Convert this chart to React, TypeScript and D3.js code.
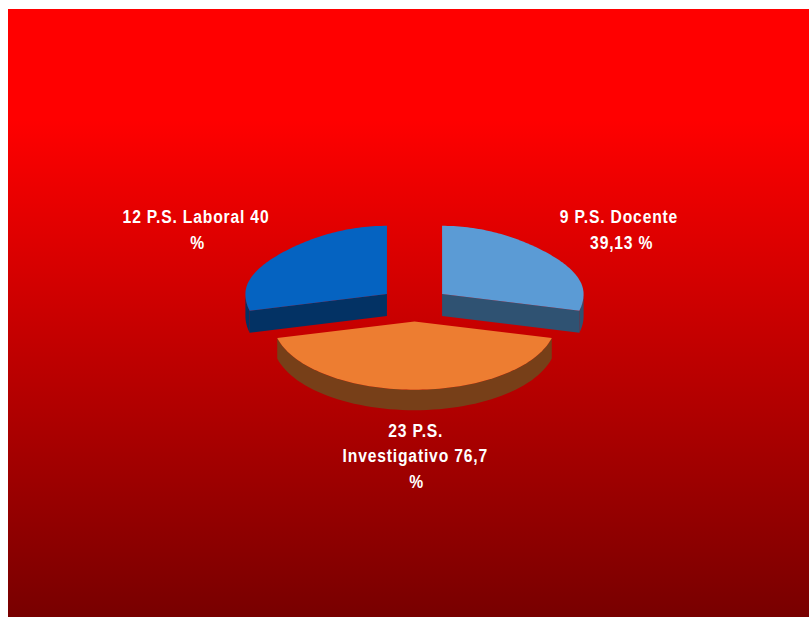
import React from "react";
import * as d3 from "d3";

// Shares measured from the slice angles in the picture; the printed labels are separate text.
const categories = ["Docente", "Investigativo", "Laboral"];
const sliceShares = [28.9, 42.2, 28.9];
const topColors = ["#5B9BD5", "#ED7D31", "#0563C1"];
const sideColors = ["#2F5272", "#773F18", "#033264"];
const labelLines = [
  ["9 P.S. Docente", "39,13 %"],
  ["23 P.S.", "Investigativo 76,7", "%"],
  ["12 P.S. Laboral 40", "%"],
];
const labelX = [[619, 621.7], [415.7, 415.3, 416.7], [196, 197.5]];
const labelY = [223.3, 436.7, 223.3];
const lineGap = 25.6;

const W = 809, H = 617;
const cx = 414.5, cy = 304.5, rx = 141.5, ry = 68.3, depths = [22, 20.5, 22], explode = 35;
const squash = ry / rx;
const backFlatten = 0.045;

export default function App() {
  const pie = d3.pie<number>().sort(null).value((d) => d);
  const arcs = pie(sliceShares);

  // the far half of the projected disc is slightly pulled in, as in a perspective view
  const radiusAt = (a: number) =>
    Math.cos(a) > 0 ? rx * (1 - backFlatten * Math.sin(2 * a) ** 2) : rx;
  const pt = (a: number, r: number, ox: number, oy: number, dy = 0): [number, number] => [
    cx + ox + r * Math.sin(a),
    cy + oy + dy - r * Math.cos(a) * squash,
  ];
  const line = d3.line<[number, number]>();
  const sample = (lo: number, hi: number, n: number) =>
    d3.range(0, n + 1).map((k) => lo + ((hi - lo) * k) / n);

  const parts = arcs.map((d, i) => {
    const mid = (d.startAngle + d.endAngle) / 2;
    const ox = explode * Math.sin(mid);
    const oy = -explode * Math.cos(mid) * squash;
    const depth = depths[i];
    const walls: string[] = [];
    // rim: the part of the outer arc facing the viewer
    const lo = Math.max(d.startAngle, Math.PI / 2);
    const hi = Math.min(d.endAngle, (3 * Math.PI) / 2);
    if (hi > lo) {
      const as = sample(lo, hi, 60);
      const top = as.map((a) => pt(a, radiusAt(a), ox, oy));
      const bottom = as.map((a) => pt(a, radiusAt(a), ox, oy, depth)).reverse();
      walls.push(line([...top, ...bottom]) + "Z");
    }
    // radial cut faces that face the viewer
    for (const a of [d.startAngle, d.endAngle]) {
      const isFront = (a === d.endAngle && a > Math.PI / 2 && a < Math.PI) || (a === d.startAngle && a > Math.PI && a < 1.5 * Math.PI);
      if (isFront) {
        const c = pt(a, 0, ox, oy), e = pt(a, radiusAt(a), ox, oy);
        walls.push(line([c, e, pt(a, radiusAt(a), ox, oy, depth), pt(a, 0, ox, oy, depth)]) + "Z");
      }
    }
    const top =
      line([pt(0, 0, ox, oy), ...sample(d.startAngle, d.endAngle, 90).map((a) => pt(a, radiusAt(a), ox, oy))]) + "Z";
    return { i, walls, top };
  });

  return (
    <svg width={W} height={H} style={{ position: "absolute", left: 0, top: 0 }}>
      <defs>
        <linearGradient id="bg" x1="0" y1="0" x2="0" y2="1">
          <stop offset="0.18" stopColor="#ff0000" />
          <stop offset="1" stopColor="#780000" />
        </linearGradient>
      </defs>
      <rect width={W} height={H} fill="#ffffff" />
      <rect x={8} y={9} width={W - 8} height={H - 9} fill="url(#bg)" />
      {parts.map((p) => (
        <g key={categories[p.i]}>
          {p.walls.map((w, k) => (
            <path key={k} d={w} fill={sideColors[p.i]} />
          ))}
          <path d={p.top} fill={topColors[p.i]} />
        </g>
      ))}
      {labelLines.map((lines, i) =>
        lines.map((t, k) => (
          <text
            key={t}
            transform={`translate(${labelX[i][k]},${labelY[i] + k * lineGap}) scale(0.87,1)`}
            textAnchor="middle"
            fill="#ffffff"
            fontFamily="Liberation Sans"
            fontWeight="bold"
            fontSize={18}
            letterSpacing={0.95}
          >
            {t}
          </text>
        ))
      )}
    </svg>
  );
}
